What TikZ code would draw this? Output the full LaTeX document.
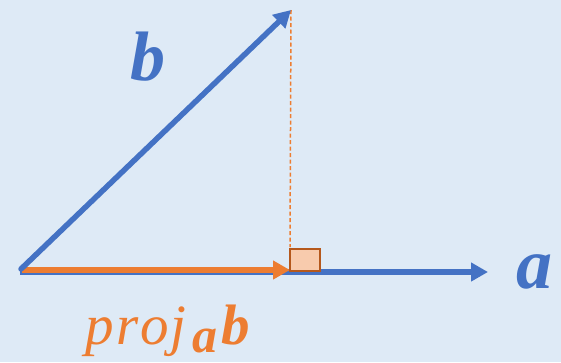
\documentclass[tikz,border=0pt]{standalone}
\usepackage{fontspec}
\setmainfont{Liberation Serif}
\usetikzlibrary{arrows.meta}
\definecolor{bg}{HTML}{DEEAF6}
\definecolor{vblue}{HTML}{4472C4}
\definecolor{vorange}{HTML}{ED7D31}
\definecolor{sqfill}{HTML}{F8CBAD}
\definecolor{sqedge}{HTML}{B5581C}
\tikzset{
  vec/.style={line width=5.5pt, -{Triangle[length=17pt,width=18pt]}},
  lbl/.style={anchor=base, inner sep=0pt},
}
\begin{document}
\begin{tikzpicture}[x=1pt,y=-1pt]
\fill[bg] (0,0) rectangle (561,362);
\useasboundingbox (0,0) rectangle (561,362);
\coordinate (O) at (20,272);
\coordinate (Ob) at (21,269);
\coordinate (Oo) at (22,270);
\coordinate (A) at (488,272);
\coordinate (B) at (291,10);
\coordinate (P) at (290,270);
\coordinate (Pd) at (290,247);
\draw[vec, vblue] (O) -- (A);
\draw[vec, vorange] (Oo) -- (P);
\draw[vorange, line width=1.5pt, dash pattern=on 4pt off 2.5pt] (B) -- (Pd);
\node[draw=sqedge, fill=sqfill, line width=2pt, minimum width=30pt, minimum height=22pt, inner sep=0pt, anchor=north west] (sq) at (289,248) {};
\draw[vec, vblue, line cap=round] (Ob) -- (B);
\node[lbl, text=vblue] (lb) at (148,80) {\fontsize{70}{70}\selectfont\bfseries\itshape b};
\node[lbl, text=vblue] (la) at (534,288) {\fontsize{72}{72}\selectfont\bfseries\itshape a};
\node[lbl, text=vorange] (lp) at (168,344) {\fontsize{57}{57}\selectfont\itshape p\kern2pt r\kern2pt o\kern2pt j\kern6pt\raisebox{-8pt}{\fontsize{50}{50}\selectfont\bfseries a}\kern4pt\bfseries b};
\end{tikzpicture}
\end{document}
